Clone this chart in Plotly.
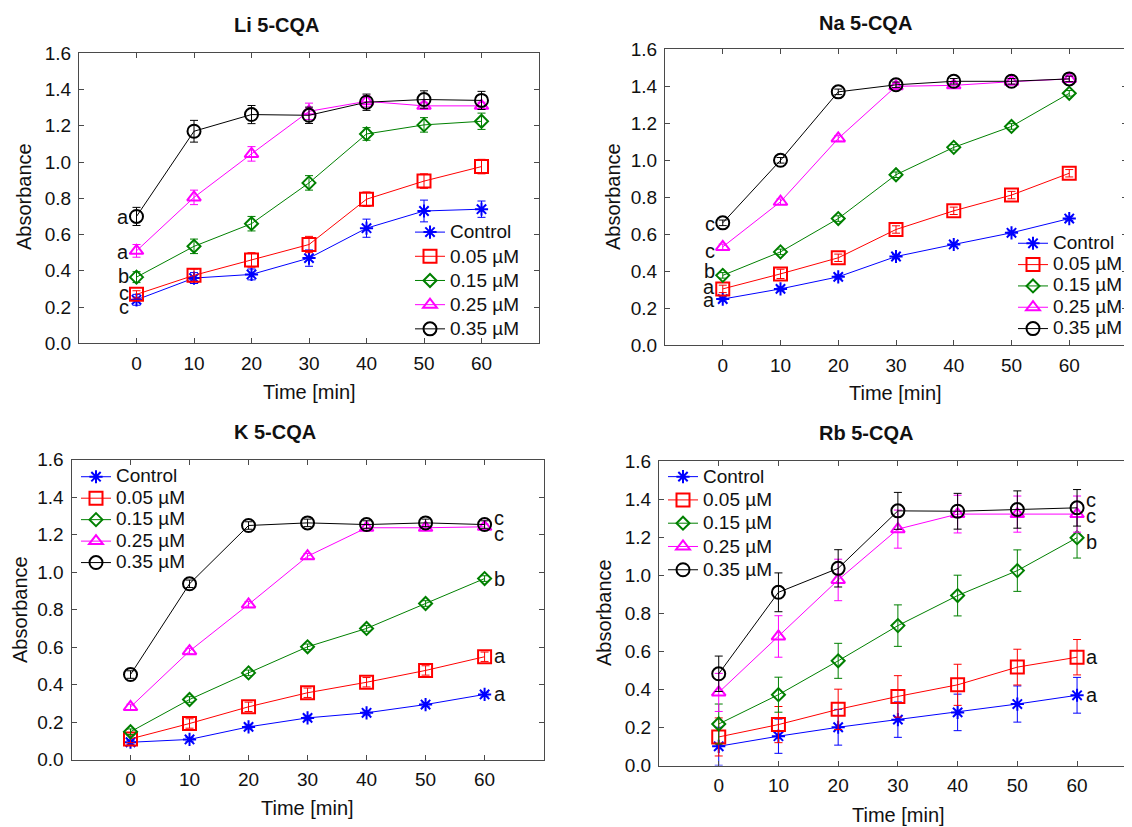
import plotly.graph_objects as go

# ---------------- data ----------------
time_min = [0, 10, 20, 30, 40, 50, 60]
series_names = ["Control", "0.05 µM", "0.15 µM", "0.25 µM", "0.35 µM"]
panel_titles = ["Li 5-CQA", "Na 5-CQA", "K 5-CQA", "Rb 5-CQA"]
y_ticks = [0.0, 0.2, 0.4, 0.6, 0.8, 1.0, 1.2, 1.4, 1.6]

# Li
li_control = [0.24, 0.36, 0.38, 0.47, 0.635, 0.73, 0.74]
li_005 = [0.27, 0.375, 0.46, 0.545, 0.795, 0.895, 0.975]
li_015 = [0.365, 0.535, 0.66, 0.885, 1.155, 1.205, 1.225]
li_025 = [0.51, 0.805, 1.045, 1.28, 1.335, 1.31, 1.31]
li_035 = [0.70, 1.17, 1.262, 1.258, 1.33, 1.345, 1.34]
li_err_control = [0.03, 0.03, 0.03, 0.045, 0.05, 0.06, 0.045]
li_err_005 = [0.02, 0.035, 0.04, 0.045, 0.04, 0.04, 0.04]
li_err_015 = [0.03, 0.04, 0.04, 0.04, 0.035, 0.04, 0.045]
li_err_025 = [0.035, 0.04, 0.04, 0.045, 0.03, 0.02, 0.02]
li_err_035 = [0.05, 0.06, 0.05, 0.045, 0.045, 0.048, 0.05]
li_letters = ["a", "a", "b", "c", "c"]
li_letter_y = [0.698, 0.502, 0.371, 0.276, 0.202]

# Na
na_control = [0.25, 0.305, 0.37, 0.48, 0.545, 0.608, 0.685]
na_005 = [0.305, 0.386, 0.473, 0.626, 0.727, 0.812, 0.93]
na_015 = [0.378, 0.505, 0.685, 0.922, 1.07, 1.183, 1.362]
na_025 = [0.532, 0.776, 1.118, 1.40, 1.405, 1.425, 1.44]
na_035 = [0.662, 1.0, 1.37, 1.408, 1.427, 1.427, 1.44]
na_err_control = [0.01, 0.01, 0.01, 0.01, 0.01, 0.01, 0.01]
na_err_005 = [0.02, 0.025, 0.02, 0.02, 0.02, 0.02, 0.02]
na_err_015 = [0.015, 0.015, 0.015, 0.015, 0.015, 0.015, 0.015]
na_err_025 = [0.015, 0.015, 0.015, 0.015, 0.015, 0.015, 0.015]
na_err_035 = [0.015, 0.015, 0.015, 0.015, 0.015, 0.015, 0.015]
na_letters = ["c", "c", "b", "a", "a"]
na_letter_y = [0.656, 0.512, 0.404, 0.317, 0.245]

# K
k_control = [0.092, 0.107, 0.174, 0.222, 0.249, 0.293, 0.347]
k_005 = [0.11, 0.192, 0.281, 0.356, 0.412, 0.475, 0.548]
k_015 = [0.148, 0.32, 0.462, 0.601, 0.699, 0.832, 0.965]
k_025 = [0.28, 0.578, 0.827, 1.084, 1.236, 1.236, 1.241]
k_035 = [0.453, 0.937, 1.248, 1.262, 1.253, 1.262, 1.253]
k_err_control = [0.01, 0.01, 0.01, 0.01, 0.01, 0.01, 0.01]
k_err_005 = [0.02, 0.025, 0.025, 0.025, 0.025, 0.025, 0.025]
k_err_015 = [0.015, 0.015, 0.015, 0.015, 0.015, 0.015, 0.015]
k_err_025 = [0.015, 0.015, 0.015, 0.015, 0.015, 0.015, 0.015]
k_err_035 = [0.02, 0.02, 0.02, 0.02, 0.02, 0.02, 0.02]
k_letters = ["c", "c", "b", "a", "a"]
k_letter_y = [1.289, 1.205, 0.965, 0.551, 0.347]

# Rb
rb_control = [0.101, 0.154, 0.201, 0.241, 0.279, 0.323, 0.369]
rb_005 = [0.150, 0.215, 0.295, 0.363, 0.424, 0.517, 0.569]
rb_015 = [0.218, 0.372, 0.55, 0.735, 0.893, 1.024, 1.197]
rb_025 = [0.384, 0.678, 0.975, 1.242, 1.321, 1.321, 1.321]
rb_035 = [0.482, 0.91, 1.036, 1.338, 1.336, 1.345, 1.354]
rb_err_control = [0.1, 0.09, 0.094, 0.093, 0.096, 0.095, 0.094]
rb_err_005 = [0.1, 0.095, 0.106, 0.109, 0.108, 0.094, 0.093]
rb_err_015 = [0.105, 0.092, 0.092, 0.109, 0.107, 0.109, 0.107]
rb_err_025 = [0.1, 0.109, 0.109, 0.1, 0.099, 0.095, 0.095]
rb_err_035 = [0.093, 0.102, 0.098, 0.097, 0.094, 0.098, 0.096]
rb_letters = ["c", "c", "b", "a", "a"]
rb_letter_y = [1.394, 1.31, 1.176, 0.57, 0.372]

# ---------------- styling ----------------
FONT = "Liberation Sans, Arial, sans-serif"
W, H = 1132, 827
OFF = 8  # page body margin offset compensation (px)
colors = ["#0000ff", "#ff0000", "#008000", "#ff00ff", "#000000"]
symbols = ["asterisk-open", "square-open", "diamond-open", "triangle-up-open", "circle-open"]
msizes = [11, 13, 10, 12, 13]
FRAME = "#4a4a4a"
TXT = "#111111"
LEG_TEXT_PX = 19

panels = [
    dict(vals=[li_control, li_005, li_015, li_025, li_035],
         errs=[li_err_control, li_err_005, li_err_015, li_err_025, li_err_035],
         letters=li_letters, letter_y=li_letter_y, side="left",
         px=(79, 539), py=(53.3, 343.3), xr=[-10, 70],
         title_xy=(277, 25), ytitle_xy=(24, 197), xtitle_xy=(309, 392),
         leg_xy=(410, 215), leg_font=16.3),
    dict(vals=[na_control, na_005, na_015, na_025, na_035],
         errs=[na_err_control, na_err_005, na_err_015, na_err_025, na_err_035],
         letters=na_letters, letter_y=na_letter_y, side="left",
         px=(665, 1127), py=(49.3, 345.3), xr=[-10, 70],
         title_xy=(865, 23), ytitle_xy=(613, 197), xtitle_xy=(895, 393),
         leg_xy=(1013, 227.6), leg_font=14.1),
    dict(vals=[k_control, k_005, k_015, k_025, k_035],
         errs=[k_err_control, k_err_005, k_err_015, k_err_025, k_err_035],
         letters=k_letters, letter_y=k_letter_y, side="right",
         px=(71.5, 543.6), py=(459.5, 759.5), xr=[-10, 70],
         title_xy=(275, 432), ytitle_xy=(20, 610), xtitle_xy=(307, 808),
         leg_xy=(76, 461), leg_font=14.2),
    dict(vals=[rb_control, rb_005, rb_015, rb_025, rb_035],
         errs=[rb_err_control, rb_err_005, rb_err_015, rb_err_025, rb_err_035],
         letters=rb_letters, letter_y=rb_letter_y, side="right",
         px=(659, 1132), py=(461, 765.5), xr=[-10, 69.2],
         title_xy=(866, 433), ytitle_xy=(604, 613), xtitle_xy=(898, 815),
         leg_xy=(663, 460), leg_font=15.6),
]


def fx(px_):
    return (px_ - OFF) / W


def fy(py_):
    return 1 - (py_ - OFF) / H


fig = go.Figure()
annotations = []
layout_axes = {}

for pi, p in enumerate(panels):
    n = pi + 1
    xa = "x" if n == 1 else f"x{n}"
    ya = "y" if n == 1 else f"y{n}"
    legname = "legend" if n == 1 else f"legend{n}"
    for si in range(5):
        fig.add_trace(go.Scatter(
            x=time_min, y=p["vals"][si], xaxis=xa, yaxis=ya,
            mode="lines+markers",
            name=f'<span style="font-size:{LEG_TEXT_PX}px">{series_names[si]}</span>',
            legend=legname,
            line=dict(color=colors[si], width=1),
            marker=dict(symbol=symbols[si], size=msizes[si], color=colors[si],
                        line=dict(color=colors[si], width=2)),
            error_y=dict(type="data", array=p["errs"][si], visible=True,
                         color=colors[si], thickness=1, width=4),
        ))
    x0, x1 = p["px"]
    yt, yb = p["py"]
    xd = [fx(x0), min(fx(x1), 1.0)]
    yd = [fy(yb), fy(yt)]
    axis_common = dict(showline=True, linecolor=FRAME, linewidth=1, mirror="ticks",
                       ticks="inside", ticklen=5, tickcolor=FRAME, tickwidth=1,
                       showgrid=False, zeroline=False,
                       tickfont=dict(family=FONT, size=19, color=TXT),
                       ticklabelstandoff=3)
    layout_axes["xaxis" if n == 1 else f"xaxis{n}"] = dict(
        axis_common, domain=xd, range=p["xr"], tickvals=time_min, anchor=ya)
    layout_axes["yaxis" if n == 1 else f"yaxis{n}"] = dict(
        axis_common, domain=yd, range=[0, 1.6], tickvals=y_ticks,
        tickformat=".1f", anchor=xa)
    tx, ty = p["title_xy"]
    annotations.append(dict(text=f"<b>{panel_titles[pi]}</b>", x=fx(tx), y=fy(ty),
                            xref="paper", yref="paper", showarrow=False,
                            xanchor="center", yanchor="middle",
                            font=dict(family=FONT, size=20, color=TXT)))
    ax_, ay_ = p["ytitle_xy"]
    annotations.append(dict(text="Absorbance", x=fx(ax_), y=fy(ay_), textangle=-90,
                            xref="paper", yref="paper", showarrow=False,
                            xanchor="center", yanchor="middle",
                            font=dict(family=FONT, size=20, color=TXT)))
    bx, by = p["xtitle_xy"]
    annotations.append(dict(text="Time [min]", x=fx(bx), y=fy(by),
                            xref="paper", yref="paper", showarrow=False,
                            xanchor="center", yanchor="middle",
                            font=dict(family=FONT, size=20, color=TXT)))
    for letter, ly in zip(p["letters"], p["letter_y"]):
        if p["side"] == "left":
            annotations.append(dict(text=letter, x=time_min[0], y=ly, xref=xa, yref=ya,
                                    showarrow=False, xanchor="right", yanchor="middle",
                                    xshift=-6, font=dict(family=FONT, size=20, color=TXT)))
        else:
            annotations.append(dict(text=letter, x=time_min[-1], y=ly, xref=xa, yref=ya,
                                    showarrow=False, xanchor="left", yanchor="middle",
                                    xshift=7, font=dict(family=FONT, size=20, color=TXT)))
    lx, ly_ = p["leg_xy"]
    layout_axes[legname] = dict(x=fx(lx), y=fy(ly_), xanchor="left", yanchor="top",
                                bgcolor="rgba(0,0,0,0)", borderwidth=0,
                                font=dict(family=FONT, size=p["leg_font"], color=TXT),
                                tracegroupgap=0, itemsizing="trace")

fig.update_layout(
    width=W, height=H,
    margin=dict(l=0, r=0, t=0, b=0, pad=0, autoexpand=False),
    paper_bgcolor="white", plot_bgcolor="white",
    font=dict(family=FONT, color=TXT),
    annotations=annotations,
    **layout_axes,
)

fig.write_html("out.html")
